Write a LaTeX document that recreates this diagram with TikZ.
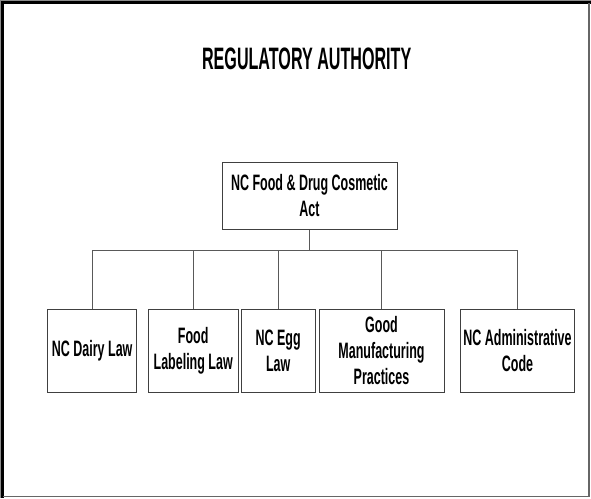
\documentclass[tikz,border=0pt]{standalone}
\usepackage{fontspec}
\setmainfont{Liberation Sans}[BoldFont={* Bold}]
\newfontfamily\boxfont{Liberation Sans Bold}[FakeStretch=0.56]
\newfontfamily\titlefont{Liberation Sans Bold}[FakeStretch=0.52]
\begin{document}
\begin{tikzpicture}[x=1pt,y=-1pt,
  box/.style={draw=black!75, line width=1pt, fill=white, inner sep=0pt,
    align=center, font=\boxfont\fontsize{22.3}{26}\selectfont},
  link/.style={draw=black!65, line width=1pt}]
\useasboundingbox (0,0) rectangle (591,498);
% frame
\draw[black!45, line width=1pt] (0.5,498) -- (0.5,0.5) -- (591,0.5);
\draw[black, line width=2.4pt] (2.6,498) -- (2.6,2.6) -- (591,2.6);
\draw[black!60, line width=1.4pt] (589,3) -- (589,496.5) -- (3,496.5);
% title
\node[font=\titlefont\fontsize{31}{36}\selectfont, inner sep=0pt] (title) at (306.7,58.5) {REGULATORY AUTHORITY};
% top box
\node[box, minimum width=175pt, minimum height=66.5pt] (act) at (309.5,196) {NC Food \& Drug Cosmetic\\Act};
% children
\node[box, minimum width=89pt, minimum height=83.5pt] (dairy) at (92.2,351) {NC Dairy Law};
\node[box, minimum width=89.7pt, minimum height=83.5pt] (label) at (193.2,351) {Food\\Labeling Law};
\node[box, minimum width=73.7pt, minimum height=83.5pt] (egg) at (278.2,351) {NC Egg\\Law};
\node[box, minimum width=125pt, minimum height=83.5pt] (gmp) at (381.5,351) {Good\\Manufacturing\\Practices};
\node[box, minimum width=113.6pt, minimum height=83.5pt] (admin) at (517.5,351) {NC Administrative\\Code};
% connectors
\coordinate (bus) at (309.5,250.7);
\draw[link] (act.south) -- (bus);
\draw[link] (dairy.north) |- (bus);
\draw[link] (admin.north) |- (bus);
\draw[link] (label.north) -- (label.north |- bus);
\draw[link] (egg.north) -- (egg.north |- bus);
\draw[link] (gmp.north) -- (gmp.north |- bus);
\end{tikzpicture}
\end{document}
